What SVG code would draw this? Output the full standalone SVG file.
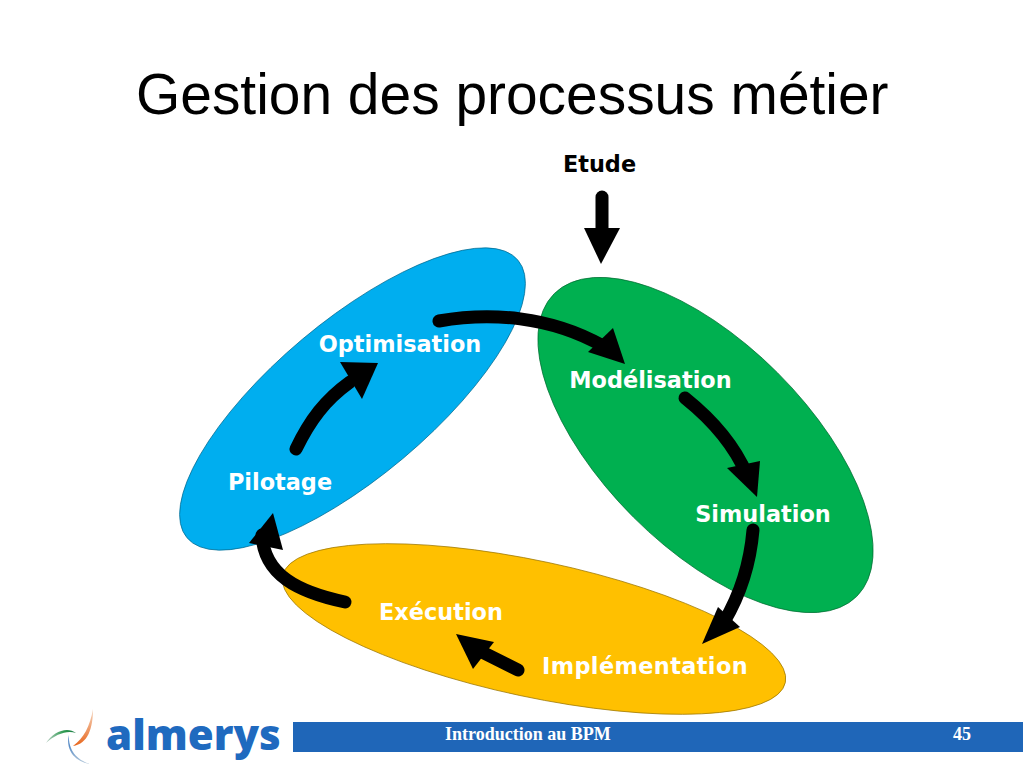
<svg xmlns="http://www.w3.org/2000/svg" width="1023" height="767" viewBox="0 0 1023 767">
<style>
.lab{font-family:"DejaVu Sans",sans-serif;font-weight:700;font-size:22.4px;fill:#fff;text-anchor:middle}
.lnk{fill:none;stroke:#000;stroke-width:13;stroke-linecap:round}
.hd{fill:#000}
.foot{font-family:"Liberation Serif",serif;font-weight:700;font-size:18px;fill:#fff}
</style>
<defs>
<linearGradient id="swO" x1="0" y1="0" x2="0" y2="1"><stop offset="0" stop-color="#f5d9c4"/><stop offset="1" stop-color="#e8661c"/></linearGradient>
<linearGradient id="swG" x1="0" y1="0" x2="1" y2="0"><stop offset="0" stop-color="#b9cfc4"/><stop offset="0.6" stop-color="#2c9a4f"/><stop offset="1" stop-color="#1c7a45"/></linearGradient>
<linearGradient id="swB" x1="0" y1="0" x2="0" y2="1"><stop offset="0" stop-color="#1f66b8"/><stop offset="1" stop-color="#b8cbdc"/></linearGradient>
</defs>
<rect width="1023" height="767" fill="#fff"/>
<text x="136" y="114" font-family="Liberation Sans, sans-serif" font-size="56.900" fill="#000">Gestion des processus métier</text>
<g id="node-blue"><ellipse cx="352.500" cy="399" rx="216" ry="78" transform="rotate(-40 352.500 399)" fill="#00aeef" stroke="#00688f" stroke-width="0.7"/></g>
<g id="node-green"><ellipse cx="705.500" cy="445" rx="214" ry="102" transform="rotate(45 705.500 445)" fill="#00b050" stroke="#006a30" stroke-width="0.7"/></g>
<g id="node-orange"><ellipse cx="534" cy="629" rx="257" ry="68" transform="rotate(12 534 629)" fill="#ffc000" stroke="#997300" stroke-width="0.7"/></g>
<g id="connectors">
<path class="lnk" d="M602 197V232"/><polygon class="hd" points="584,228 620,228 601,264"/>
<path class="lnk" d="M439 321C490 312 550 316 603 346"/><polygon class="hd" points="613,328 588,352 625,364"/>
<path class="lnk" d="M685 398C710 418 733 442 747 475"/><polygon class="hd" points="760,461 727,468 757,497"/>
<path class="lnk" d="M753 530C750 565 740 595 724 622"/><polygon class="hd" points="740,627 718,607 702,644"/>
<path class="lnk" d="M518 670L482 652"/><polygon class="hd" points="494,642 473,669 456,634"/>
<path class="lnk" d="M345 602C298 592 264 575 262 535"/><polygon class="hd" points="249,543 283,550 273,513"/>
<path class="lnk" d="M296 449C310 420 325 400 350 382"/><polygon class="hd" points="340,362 362,399 378,363"/>
</g>
<g id="label-etude"><text class="lab" x="599.500" y="172" style="fill:#000">Etude</text></g>
<g id="label-optimisation"><text class="lab" x="400" y="352">Optimisation</text></g>
<g id="label-modelisation"><text class="lab" x="650.500" y="388">Modélisation</text></g>
<g id="label-simulation"><text class="lab" x="763" y="522">Simulation</text></g>
<g id="label-implementation"><text class="lab" x="645" y="674" letter-spacing="0.4">Implémentation</text></g>
<g id="label-execution"><text class="lab" x="441" y="620">Exécution</text></g>
<g id="label-pilotage"><text class="lab" x="280" y="490">Pilotage</text></g>
<g id="logo">
<path d="M93 709C93 728 88 744 73 746C84 738 90 726 93 709Z" fill="url(#swO)"/>
<path d="M46 743C53 732 67 726 76 733C67 730 56 734 46 743Z" fill="url(#swG)"/>
<path d="M69 735C68 750 77 760 90 764C77 762 65 752 69 735Z" fill="url(#swB)"/>
<text x="106" y="750" font-family="Open Sans, sans-serif" font-weight="800" font-size="42" fill="#1f6abf">almerys</text>
</g>
<g id="footer">
<rect x="293" y="722" width="730" height="30" fill="#1f66b8"/>
<text class="foot" x="445" y="740">Introduction au BPM</text>
<text class="foot" x="953" y="740">45</text>
</g>
</svg>
